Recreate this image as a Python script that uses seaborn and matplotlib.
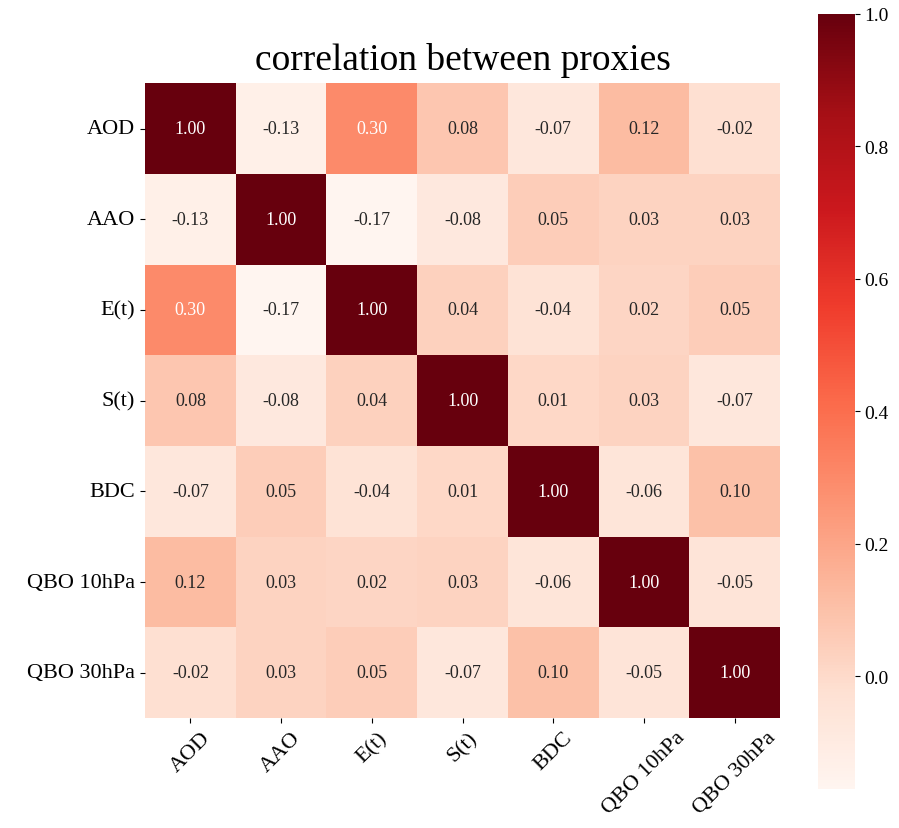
import numpy as np
import pandas as pd
import matplotlib
matplotlib.use('Agg')
import matplotlib.pyplot as plt
import seaborn as sns

proxies = ['AOD', 'AAO', 'E(t)', 'S(t)', 'BDC', 'QBO 10hPa', 'QBO 30hPa']

row_aod = [1.00, -0.13, 0.30, 0.08, -0.07, 0.12, -0.02]
row_aao = [-0.13, 1.00, -0.17, -0.08, 0.05, 0.03, 0.03]
row_et = [0.30, -0.17, 1.00, 0.04, -0.04, 0.02, 0.05]
row_st = [0.08, -0.08, 0.04, 1.00, 0.01, 0.03, -0.07]
row_bdc = [-0.07, 0.05, -0.04, 0.01, 1.00, -0.06, 0.10]
row_qbo10 = [0.12, 0.03, 0.02, 0.03, -0.06, 1.00, -0.05]
row_qbo30 = [-0.02, 0.03, 0.05, -0.07, 0.10, -0.05, 1.00]

corr = pd.DataFrame([row_aod, row_aao, row_et, row_st, row_bdc, row_qbo10, row_qbo30],
                    index=proxies, columns=proxies)

plt.rcParams['font.family'] = ['Liberation Serif', 'DejaVu Serif']

fig = plt.figure(figsize=(8.99, 8.29), dpi=100)
ax = fig.add_axes([0.161, 0.1325, 0.707, 0.766])
cax = fig.add_axes([0.91, 0.047, 0.041, 0.935])

sns.heatmap(corr, ax=ax, cbar_ax=cax, cmap='Reds', annot=True, fmt='.2f',
            square=True, annot_kws={'size': 13})

ax.set_title('correlation between proxies', fontsize=27, pad=10)
ax.tick_params(axis='both', labelsize=16)
plt.setp(ax.get_xticklabels(), rotation=45, ha='center')
plt.setp(ax.get_yticklabels(), rotation=0)
cax.tick_params(labelsize=14)

fig.savefig('out.png', dpi=100)
